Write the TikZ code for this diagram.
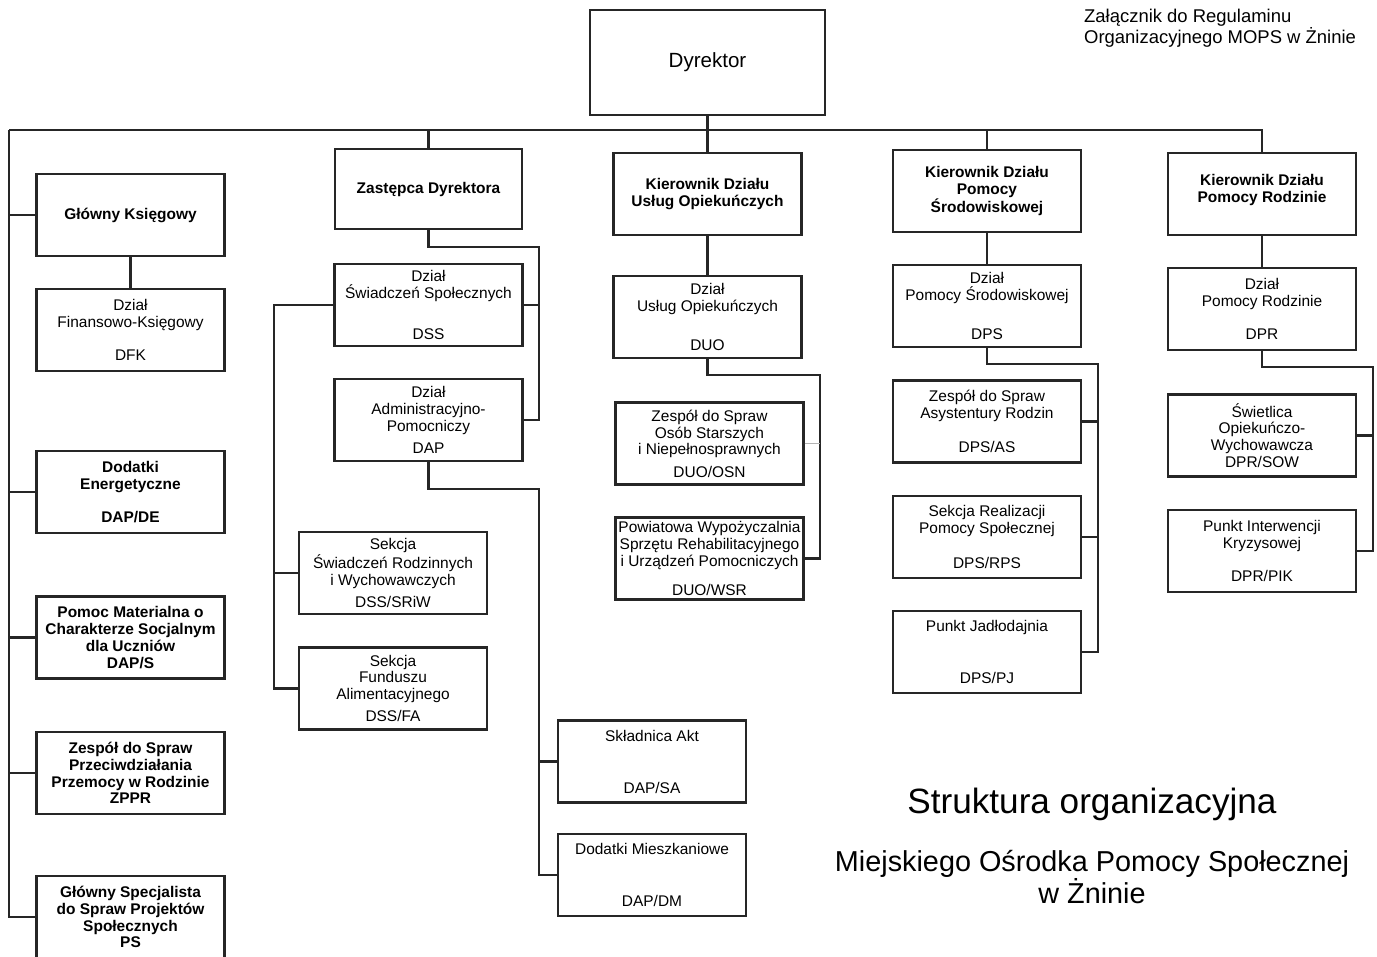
\documentclass[tikz,border=0pt]{standalone}
\usepackage{fontspec}
\setmainfont{Liberation Sans}
\usepackage{tikz}
\usetikzlibrary{positioning}

\tikzset{
    unit/.style={draw=black!85, line width=1.2pt, minimum width=3.76cm, minimum height=1.64cm,
        align=center, inner sep=1pt, font=\fontsize{8.8}{9.6}\selectfont},
    head/.style={unit, font=\fontsize{8.8}{9.6}\selectfont\bfseries},
    link/.style={draw=black!85, line width=1.2pt}
}

\begin{document}
\begin{tikzpicture}[x=0.02cm, y=-0.02cm]
                    \useasboundingbox (0,0) rectangle (1377,957);
                    \node[unit, minimum width=4.7cm, minimum height=2.1cm, font=\fontsize{11.7}{13}\selectfont] (dyrektor) at (707.5,62.5) {Dyrektor};
                    \node[anchor=west, align=left, font=\fontsize{10.5}{11.9}\selectfont] (zalacznik) at (1078,28) {Załącznik do Regulaminu\\Organizacyjnego MOPS w Żninie};
                    \coordinate (bus) at (9,130);
                    \node[head] (ksiegowy) at (130.5,215) {Główny Księgowy};
                    \node[unit] (dfk) at (130.5,330) {Dział\\Finansowo-Księgowy\\[9.6pt]DFK};
                    \node[head] (dodEn) at (130.5,492) {Dodatki\\Energetyczne\\[9.6pt]DAP/DE};
                    \node[head] (pomMat) at (130.5,637.5) {Pomoc Materialna o\\Charakterze Socjalnym\\dla Uczniów\\DAP/S};
                    \node[head] (zppr) at (130.5,773) {Zespół do Spraw\\Przeciwdziałania\\Przemocy w Rodzinie\\ZPPR};
                    \node[head] (specjalista) at (130.5,917) {Główny Specjalista\\do Spraw Projektów\\Społecznych\\PS};
                    \node[head, minimum width=3.74cm, minimum height=1.6cm] (zastepca) at (428.5,189) {Zastępca Dyrektora};
                    \node[unit] (dss) at (428.5,305) {Dział\\Świadczeń Społecznych\\[14pt]DSS};
                    \node[unit] (dap) at (428.5,420) {Dział\\Administracyjno-\\Pomocniczy\\[3pt]DAP};
                    \node[unit] (sriw) at (393,573) {Sekcja\\Świadczeń Rodzinnych\\i Wychowawczych\\[3pt]DSS/SRiW};
                    \node[unit] (fa) at (393,688.5) {Sekcja\\Funduszu\\Alimentacyjnego\\[3pt]DSS/FA};
                    \node[unit] (skladnica) at (652,761.5) {Składnica Akt\\[20pt]DAP/SA};
                    \node[unit] (dodMieszk) at (652,875) {Dodatki Mieszkaniowe\\[20pt]DAP/DM};
                    \node[head] (kierDUO) at (707.5,194) {Kierownik Działu\\Usług Opiekuńczych};
                    \node[unit] (duo) at (707.5,317) {Dział\\Usług Opiekuńczych\\[13pt]DUO};
                    \node[unit] (osn) at (709.5,443.5) {Zespół do Spraw\\Osób Starszych\\i Niepełnosprawnych\\[3pt]DUO/OSN};
                    \node[unit] (wsr) at (709.5,558.5) {Powiatowa Wypożyczalnia\\Sprzętu Rehabilitacyjnego\\i Urządzeń Pomocniczych\\[7pt]DUO/WSR};
                    \node[head] (kierDPS) at (987,191) {Kierownik Działu\\Pomocy\\Środowiskowej};
                    \node[unit] (dps) at (987,306) {Dział\\Pomocy Środowiskowej\\[13pt]DPS};
                    \node[unit] (dpsAS) at (987,421.5) {Zespół do Spraw\\Asystentury Rodzin\\[10pt]DPS/AS};
                    \node[unit] (dpsRPS) at (987,537) {Sekcja Realizacji\\Pomocy Społecznej\\[10pt]DPS/RPS};
                    \node[unit] (dpsPJ) at (987,652) {Punkt Jadłodajnia\\[20pt]DPS/PJ};
                    \node[head] (kierDPR) at (1262,194) {Kierownik Działu\\Pomocy Rodzinie\\[-3pt]};
                    \node[unit] (dpr) at (1262,309) {Dział\\Pomocy Rodzinie\\[9.6pt]DPR};
                    \node[unit] (sow) at (1262,435.5) {Świetlica\\Opiekuńczo-\\Wychowawcza\\DPR/SOW};
                    \node[unit] (pik) at (1262,551) {Punkt Interwencji\\Kryzysowej\\[9.6pt]DPR/PIK};
                    \node[font=\fontsize{20}{24}\selectfont] (tytul) at (1092,804) {Struktura organizacyjna};
                    \node[align=center, font=\fontsize{16.4}{18}\selectfont] (podtytul) at (1092,877) {Miejskiego Ośrodka Pomocy Społecznej\\w Żninie};
                    \draw[link] (bus) -- (kierDPR.north |- bus) -- (kierDPR.north);
                    \draw[link] (dyrektor) -- (dyrektor.south |- bus);
                    \draw[link] (zastepca.north) -- (zastepca.north |- bus);
                    \draw[link] (kierDUO.north) -- (kierDUO.north |- bus);
                    \draw[link] (kierDPS.north) -- (kierDPS.north |- bus);
                    \draw[link] (bus) |- (specjalista.west);
                    \draw[link] (ksiegowy.west) -- (ksiegowy.west -| bus);
                    \draw[link] (dodEn.west) -- (dodEn.west -| bus);
                    \draw[link] (pomMat.west) -- (pomMat.west -| bus);
                    \draw[link] (zppr.west) -- (zppr.west -| bus);
                    \draw[link] (ksiegowy) -- (dfk);
                    \coordinate (zastepcaR) at (539,247);
                    \draw[link] (zastepca.south) |- (zastepcaR) |- (dap.east);
                    \draw[link] (dss.east) -- (dss.east -| zastepcaR);
                    \coordinate (dssL) at (274,305);
                    \draw[link] (dss.west) -- (dssL) |- (fa.west);
                    \draw[link] (sriw.west) -- (sriw.west -| dssL);
                    \coordinate (dapR) at (539,489);
                    \draw[link] (dap.south) |- (dapR) |- (dodMieszk.west);
                    \draw[link] (skladnica.west) -- (skladnica.west -| dapR);
                    \draw[link] (kierDUO) -- (duo);
                    \coordinate (duoR) at (820,375);
                    \draw[link] (duo.south) |- (duoR) |- (wsr.east);
                    \draw[gray!60, line width=0.5pt] (osn.east) -- (osn.east -| duoR);
                    \draw[link] (kierDPS) -- (dps);
                    \coordinate (dpsR) at (1098,364);
                    \draw[link] (dps.south) |- (dpsR) |- (dpsPJ.east);
                    \draw[link] (dpsAS.east) -- (dpsAS.east -| dpsR);
                    \draw[link] (dpsRPS.east) -- (dpsRPS.east -| dpsR);
                    \draw[link] (kierDPR) -- (dpr);
                    \coordinate (dprR) at (1373,367);
                    \draw[link] (dpr.south) |- (dprR) |- (pik.east);
                    \draw[link] (sow.east) -- (sow.east -| dprR);
                \end{tikzpicture}
\end{document}
